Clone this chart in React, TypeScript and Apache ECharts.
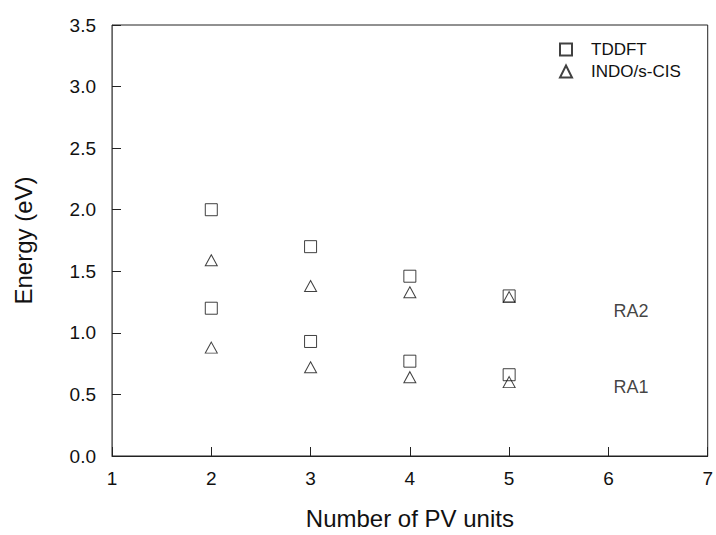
import React, { useEffect, useRef } from "react";
import * as echarts from "echarts";

const xTicks = [1, 2, 3, 4, 5, 6, 7];
const tddftX = [2, 2, 3, 3, 4, 4, 5, 5];
const tddftY = [2.0, 1.2, 1.7, 0.93, 1.46, 0.77, 1.3, 0.66];
const indoX = [2, 2, 3, 3, 4, 4, 5, 5];
const indoY = [1.59, 0.88, 1.38, 0.72, 1.33, 0.64, 1.29, 0.6];
const bandLabels = ["RA2", "RA1"];
const bandLabelX = [6.05, 6.05];
const bandLabelY = [1.175, 0.56];

export default function App() {
  const ref = useRef<HTMLDivElement>(null);
  useEffect(() => {
    if (!ref.current) return;
    const chart = echarts.init(ref.current, undefined, { renderer: "svg" });
    const font = "'Liberation Sans', Arial, sans-serif";
    chart.setOption({
      animation: false,
      backgroundColor: "#fff",
      grid: { left: 112, right: 8, top: 25, bottom: 75, show: true, borderColor: "#222", borderWidth: 1 },
      legend: {
        orient: "vertical",
        left: 554,
        top: 36,
        itemWidth: 12,
        itemHeight: 12,
        itemGap: 5,
        textStyle: { fontFamily: font, fontSize: 17, color: "#111", padding: [0, 0, 0, 14] },
        data: [
          { name: "TDDFT", icon: "rect" },
          { name: "INDO/s-CIS", icon: "triangle" },
        ],
      },
      xAxis: {
        type: "value",
        min: 1,
        max: 7,
        interval: 1,
        name: "Number of PV units",
        nameLocation: "middle",
        nameGap: 50,
        nameTextStyle: { fontFamily: font, fontSize: 24, color: "#111" },
        axisLine: { lineStyle: { color: "#222" } },
        axisTick: { inside: true, length: 9, lineStyle: { color: "#222" } },
        axisLabel: { fontFamily: font, fontSize: 19, color: "#111", margin: 13, formatter: (v: number) => (xTicks.includes(v) ? String(v) : "") },
        splitLine: { show: false },
      },
      yAxis: {
        type: "value",
        min: 0,
        max: 3.5,
        interval: 0.5,
        name: "Energy (eV)",
        nameLocation: "middle",
        nameGap: 77,
        nameTextStyle: { fontFamily: font, fontSize: 24, color: "#111" },
        axisLine: { lineStyle: { color: "#666" } },
        axisTick: { inside: true, length: 9, lineStyle: { color: "#222" } },
        axisLabel: { fontFamily: font, fontSize: 19, color: "#111", margin: 16, formatter: (v: number) => v.toFixed(1) },
        splitLine: { show: false },
      },
      series: [
        {
          name: "TDDFT",
          type: "scatter",
          symbol: "rect",
          symbolSize: 12,
          itemStyle: { color: "#fff", borderColor: "#111", borderWidth: 1 },
          data: tddftX.map((x, i) => [x, tddftY[i]]),
        },
        {
          name: "INDO/s-CIS",
          type: "scatter",
          symbol: "triangle",
          symbolSize: [12, 11],
          itemStyle: { color: "rgba(255,255,255,0)", borderColor: "#111", borderWidth: 1 },
          data: indoX.map((x, i) => [x, indoY[i]]),
        },
        {
          name: "labels",
          type: "scatter",
          symbolSize: 0,
          silent: true,
          label: {
            show: true,
            position: "right",
            distance: 0,
            formatter: (p: any) => bandLabels[p.dataIndex],
            fontFamily: font,
            fontSize: 18,
            color: "#111",
          },
          data: bandLabelX.map((x, i) => [x, bandLabelY[i]]),
        },
      ],
    });
    return () => chart.dispose();
  }, []);
  return <div ref={ref} style={{ width: 716, height: 535, position: "absolute", left: 0, top: 0 }} />;
}
